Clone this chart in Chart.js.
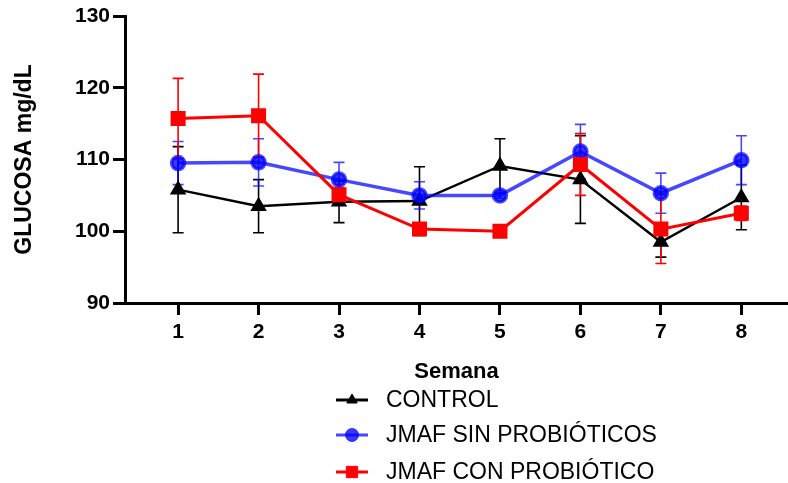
<!DOCTYPE html>
<html>
<head>
<meta charset="utf-8">
<script src="https://cdn.jsdelivr.net/npm/chart.js@4.4.1/dist/chart.umd.min.js"></script>
<style>
  html, body { margin: 0; padding: 0; background: #fff; }
  canvas { display: block; }
</style>
</head>
<body>
<canvas id="chart" width="788" height="483"></canvas>
<script>
// semanas y valores de glucosa (media y desviación)
const semanas = [1, 2, 3, 4, 5, 6, 7, 8];
const yTicks = [90, 100, 110, 120, 130];

const control = [105.8, 103.5, 104.1, 104.2, 109.1, 107.2, 98.5, 104.7];
const controlErr = [6.0, 3.7, 2.9, 4.8, 3.8, 6.1, 2.1, 4.5];

const sinProbioticos = [109.5, 109.6, 107.2, 105.0, 105.0, 111.1, 105.3, 109.9];
const sinProbioticosErr = [3.0, 3.3, 2.4, 1.9, 0.4, 3.8, 2.8, 3.4];

const conProbiotico = [115.7, 116.1, 105.1, 100.3, 100.0, 109.3, 100.3, 102.5];
const conProbioticoErr = [5.6, 5.8, 1.0, 0.4, 0.4, 4.3, 4.8, 1.0];

const FONT = "'Liberation Sans', Arial, sans-serif";

const toPoints = vals => vals.map((v, i) => ({ x: semanas[i], y: v }));

const errorBars = {
    id: "errorBars",
    beforeDatasetsDraw(chart) {
        const ctx = chart.ctx;
        const y = chart.scales.y;
        chart.data.datasets.forEach((ds, di) => {
            const meta = chart.getDatasetMeta(di);
            ctx.save();
            ctx.strokeStyle = ds.borderColor;
            ctx.lineWidth = 1.6;
            meta.data.forEach((pt, i) => {
                const e = ds.errors[i];
                const v = ds.data[i].y;
                const top = y.getPixelForValue(v + e);
                const bot = y.getPixelForValue(v - e);
                ctx.beginPath();
                ctx.moveTo(pt.x, top); ctx.lineTo(pt.x, bot);
                ctx.moveTo(pt.x - 5.5, top); ctx.lineTo(pt.x + 5.5, top);
                ctx.moveTo(pt.x - 5.5, bot); ctx.lineTo(pt.x + 5.5, bot);
                ctx.stroke();
            });
            ctx.restore();
        });
    }
};

const legendList = {
    id: "legendList",
    afterDraw(chart) {
        const ctx = chart.ctx;
        const rows = [400, 435, 472];
        chart.data.datasets.forEach((ds, i) => {
            const yy = rows[i];
            ctx.save();
            ctx.strokeStyle = ds.borderColor;
            ctx.fillStyle = ds.backgroundColor;
            ctx.lineWidth = 3;
            ctx.beginPath();
            ctx.moveTo(336, yy); ctx.lineTo(368, yy);
            ctx.stroke();
            ctx.lineWidth = 1;
            Chart.helpers.drawPoint(ctx, { pointStyle: ds.pointStyle, radius: ds.legendRadius, rotation: 0, borderWidth: 1 }, 352, yy);
            ctx.fillStyle = "#000";
            ctx.font = "23px " + FONT;
            ctx.textBaseline = "middle";
            ctx.fillText(ds.label, 386, yy + 1);
            ctx.restore();
        });
    }
};

new Chart(document.getElementById("chart").getContext("2d"), {
    type: "line",
    data: {
        datasets: [
            {
                label: "CONTROL",
                data: toPoints(control),
                errors: controlErr,
                borderColor: "#000000",
                backgroundColor: "#000000",
                borderWidth: 2.5,
                pointStyle: "triangle",
                pointRadius: 7,
                legendRadius: 6,
                order: 3
            },
            {
                label: "JMAF SIN PROBIÓTICOS",
                data: toPoints(sinProbioticos),
                errors: sinProbioticosErr,
                borderColor: "rgba(0,0,255,0.72)",
                backgroundColor: "rgba(0,0,255,0.78)",
                borderWidth: 3.5,
                pointStyle: "circle",
                pointRadius: 6.5,
                legendRadius: 6.5,
                order: 2
            },
            {
                label: "JMAF CON PROBIÓTICO",
                data: toPoints(conProbiotico),
                errors: conProbioticoErr,
                borderColor: "#ff0000",
                backgroundColor: "#ff0000",
                borderWidth: 3,
                pointStyle: "rect",
                pointRadius: 8.5,
                legendRadius: 8,
                order: 1
            }
        ]
    },
    options: {
        responsive: false,
        animation: false,
        layout: { autoPadding: false, padding: { top: 16, right: 0, bottom: 98, left: 0 } },
        plugins: {
            legend: { display: false },
            tooltip: { enabled: false }
        },
        elements: { line: { tension: 0 }, point: { borderWidth: 1 } },
        scales: {
            x: {
                type: "linear",
                min: 0.34,
                max: 8.58,
                afterBuildTicks: s => { s.ticks = semanas.map(v => ({ value: v })); },
                afterFit: s => { s.height = 82; s.paddingRight = 0; s.paddingLeft = 0; },
                ticks: {
                    color: "#000",
                    font: { family: FONT, size: 21, weight: "bold" },
                    padding: 5,
                    maxRotation: 0
                },
                grid: { drawOnChartArea: false, tickLength: 12, tickWidth: 3, tickColor: "#000" },
                border: { color: "#000", width: 3 },
                title: {
                    display: true,
                    text: "Semana",
                    color: "#000",
                    font: { family: FONT, size: 22, weight: "bold" },
                    padding: { top: 0, bottom: 0 }
                }
            },
            y: {
                min: 90,
                max: 130,
                afterBuildTicks: s => { s.ticks = yTicks.map(v => ({ value: v })); },
                afterFit: s => { s.width = 125; },
                ticks: {
                    color: "#000",
                    font: { family: FONT, size: 21, weight: "bold" },
                    padding: 3
                },
                grid: { drawOnChartArea: false, tickLength: 12, tickWidth: 3, tickColor: "#000" },
                border: { color: "#000", width: 3 },
                title: {
                    display: true,
                    text: "GLUCOSA mg/dL",
                    color: "#000",
                    font: { family: FONT, size: 23, weight: "bold" },
                    padding: { top: 11, bottom: 0 }
                }
            }
        }
    },
    plugins: [errorBars, legendList]
});
</script>
</body>
</html>
